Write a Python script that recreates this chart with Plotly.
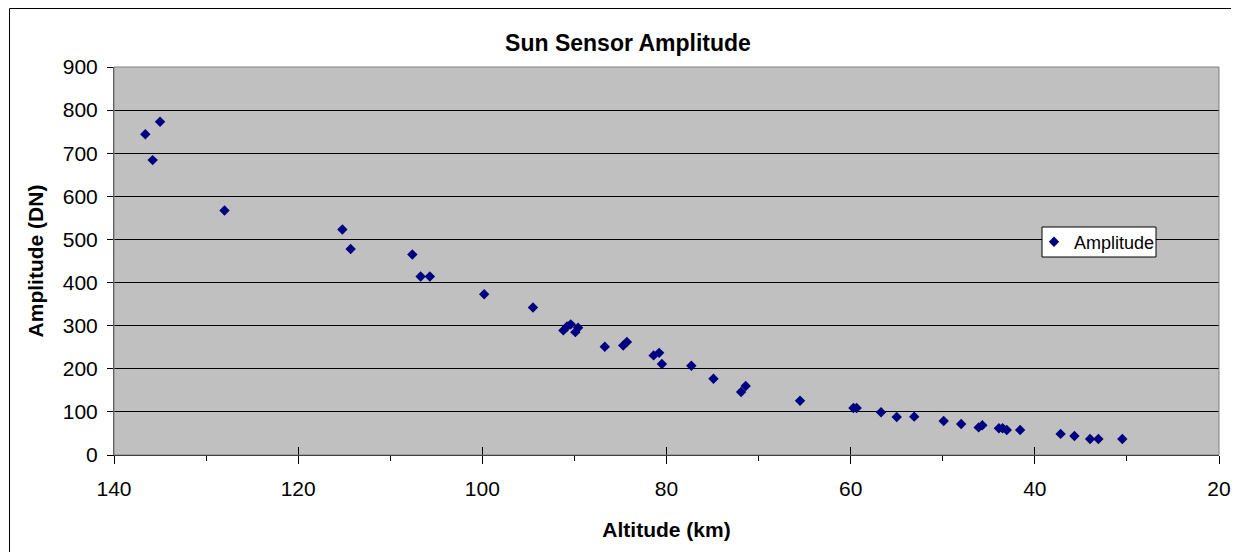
import plotly.graph_objects as go

altitude_km = [136.6, 135.8, 135.0, 128.0, 115.2, 114.3, 107.6, 106.7, 105.7, 99.8,
               94.5, 91.2, 90.8, 90.4, 89.9, 89.6, 86.7, 84.7, 84.3, 81.4,
               80.8, 80.5, 77.3, 74.9, 71.9, 71.4, 65.5, 59.7, 59.35, 56.7,
               55.0, 53.1, 49.9, 48.0, 46.1, 45.7, 43.9, 43.5, 43.05, 41.6,
               37.2, 35.7, 34.0, 33.1, 30.5]
amplitude_dn = [744, 684, 773, 567, 523, 478, 465, 414, 414, 373,
                342, 289, 298, 303, 285, 295, 251, 254, 262, 231,
                237, 211, 207, 177, 146, 160, 126, 109, 109, 99,
                88, 89, 79, 72, 64, 69, 62, 62, 58, 58,
                49, 44, 37, 37, 37]
series_name = "Amplitude"
chart_title = "Sun Sensor Amplitude"
x_title = "Altitude (km)"
y_title = "Amplitude (DN)"

# page body has an 8px margin; figure pixel coords = reference coords - 8
W, H = 1231, 544
L, R, T, B = 106, 1211, 59, 447

def px(x):
    return (x - L) / (R - L)

def py(y):
    return (B - y) / (B - T)

FONT = "Liberation Sans, Arial, sans-serif"

fig = go.Figure()
fig.add_trace(go.Scatter(
    x=altitude_km, y=amplitude_dn, mode="markers", name=series_name,
    marker=dict(symbol="diamond", size=8, color="#000080"),
))
# overlaid axis to give the major x ticks a crossing look
fig.add_trace(go.Scatter(x=[140, 20], y=[0, 0], xaxis="x2", mode="markers",
                         marker=dict(opacity=0), showlegend=False, hoverinfo="skip"))

fig.update_layout(
    width=W, height=H,
    margin=dict(l=L, r=W - R, t=T, b=H - B, autoexpand=False),
    paper_bgcolor="white",
    plot_bgcolor="#C0C0C0",
    font=dict(family=FONT, color="black", size=21),
    title=dict(text="<b>" + chart_title + "</b>", x=620 / W, xref="container",
               y=1 - 35 / H, yanchor="middle", xanchor="center",
               font=dict(size=23, family=FONT, color="black")),
    showlegend=True,
    legend=dict(x=px(1026), y=py(234), xanchor="left", yanchor="middle",
                bgcolor="rgba(0,0,0,0)", borderwidth=0,
                font=dict(size=18, family=FONT), itemwidth=30,
                tracegroupgap=0),
    xaxis=dict(range=[140, 20], autorange=False, dtick=20, tick0=0,
               showgrid=False, zeroline=False,
               showline=True, linecolor="black", linewidth=1,
               ticks="outside", ticklen=8, tickcolor="black", tickwidth=1,
               minor=dict(dtick=10, ticks="outside", ticklen=5, tickcolor="black", showgrid=False),
               ticklabelstandoff=7,
               tickfont=dict(size=21),
               title=dict(text="<b>" + x_title + "</b>", font=dict(size=21), standoff=23)),
    xaxis2=dict(range=[140, 20], autorange=False, overlaying="x", dtick=20, tick0=0,
                showgrid=False, zeroline=False, showline=False,
                ticks="inside", ticklen=8, tickcolor="black", showticklabels=False,
                side="bottom"),
    yaxis=dict(range=[0, 900], autorange=False, dtick=100,
               showgrid=True, gridcolor="black", gridwidth=1,
               zeroline=False,
               showline=True, linecolor="#404040", linewidth=1,
               ticks="outside", ticklen=6, tickcolor="black",
               ticklabelstandoff=5,
               tickfont=dict(size=21),
               title=dict(text="<b>" + y_title + "</b>", font=dict(size=21), standoff=13)),
    shapes=[
        dict(type="rect", xref="paper", yref="paper",
             x0=px(L), x1=px(R), y0=py(B), y1=py(T),
             line=dict(color="#808080", width=1), fillcolor="rgba(0,0,0,0)", layer="above"),
        dict(type="rect", xref="paper", yref="paper",
             x0=px(1034), x1=px(1148), y0=py(249), y1=py(219),
             line=dict(color="black", width=1), fillcolor="white", layer="above"),
        dict(type="rect", xref="paper", yref="paper",
             x0=px(1.5), x1=px(1229.5), y0=py(570), y1=py(0.5),
             line=dict(color="black", width=1), fillcolor="rgba(0,0,0,0)", layer="above"),
    ],
)

fig.write_html("out.html")
